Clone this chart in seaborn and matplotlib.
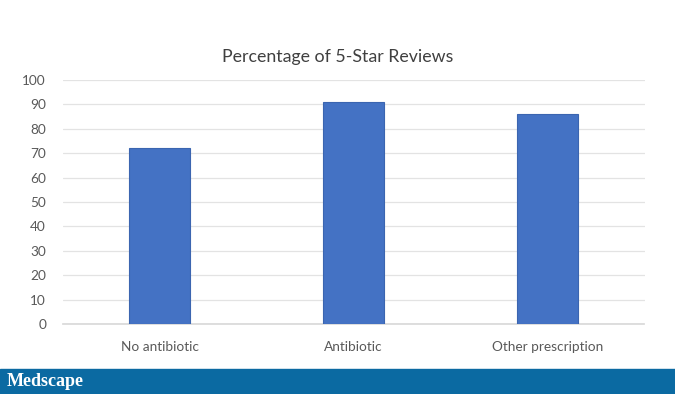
import matplotlib.pyplot as plt
import pandas as pd
import seaborn as sns

categories = ["No antibiotic", "Antibiotic", "Other prescription"]
five_star_pct = [72, 91, 86]
y_ticks = list(range(0, 101, 10))

sns.set_theme(style="white")
plt.rcParams["font.family"] = ["Lato", "DejaVu Sans"]

df = pd.DataFrame({"group": categories, "pct": five_star_pct})

fig = plt.figure(figsize=(6.75, 3.94), dpi=100)
ax = fig.add_axes([62.7 / 675, (394 - 324) / 394, (644.5 - 62.7) / 675, 244 / 394])

sns.barplot(df, x="group", y="pct", color="#4472C4", saturation=1,
            width=0.313, edgecolor="#3b65b0", linewidth=0.8, ax=ax, zorder=3)

ax.set_xlim(-0.5, 2.5)
ax.set_ylim(0, 100)
ax.set_yticks(y_ticks)
ax.yaxis.grid(True, color="#e3e3e3", linewidth=0.9, zorder=0)
ax.set_axisbelow(True)
for side in ["top", "right", "left"]:
    ax.spines[side].set_visible(False)
ax.spines["bottom"].set_color("#d9d9d9")
ax.tick_params(axis="both", length=0, colors="#595959", labelsize=9.8)
ax.tick_params(axis="y", pad=12)
ax.tick_params(axis="x", pad=12)
ax.set_xlabel("")
ax.set_ylabel("")

fig.text(0.5, 1 - 57 / 394, "Percentage of 5-Star Reviews", ha="center", va="center",
         fontsize=12.8, color="#404040")

# Medscape banner
fig.patches.append(plt.Rectangle((0, 0), 1, 25 / 394, transform=fig.transFigure,
                                 color="#0b6aa2", zorder=0))
fig.text(7 / 675, 12.5 / 394, "Medscape", ha="left", va="center", color="white",
         fontsize=13, fontweight="bold", family=["Liberation Serif", "DejaVu Serif"])

fig.savefig("out.png", dpi=100, facecolor="white")
